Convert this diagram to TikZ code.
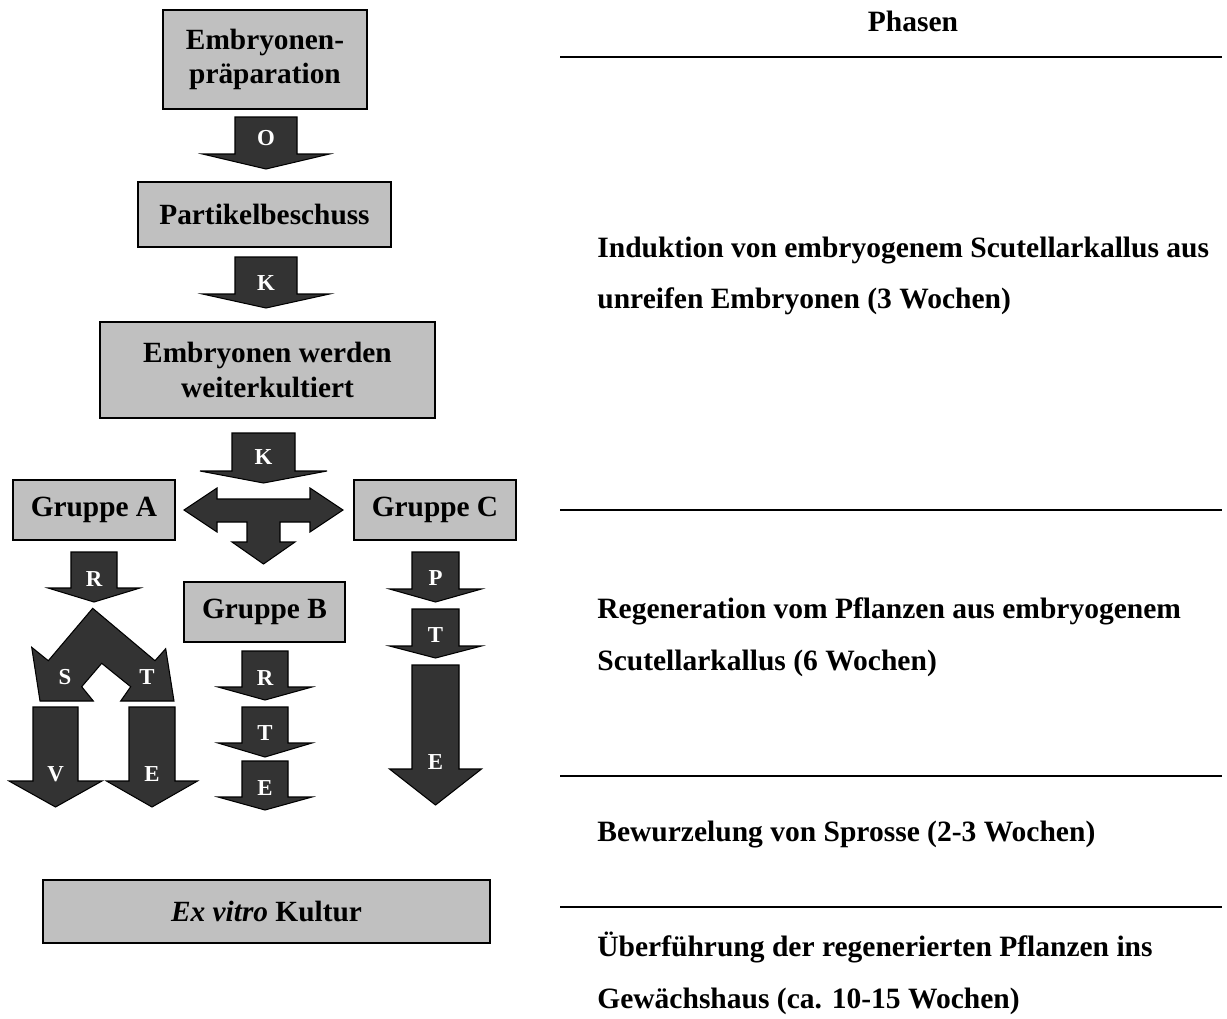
\documentclass[tikz,border=0pt]{standalone}
\usepackage{fontspec}
\setmainfont{Liberation Serif}

\definecolor{boxgray}{RGB}{192, 192, 192}
\definecolor{arrowgray}{RGB}{51, 51, 51}

\begin{document}
\begin{tikzpicture}[x=0.02cm, y=-0.02cm, line join=miter,
        box/.style={draw=black, fill=boxgray, line width=0.9pt, inner sep=0pt,
            align=center, font=\fontsize{16.7}{19.8}\selectfont\bfseries},
        blk/.style={draw=black, fill=arrowgray, line width=0.6pt},
        lbl/.style={text=white, inner sep=0pt, font=\fontsize{13}{14}\selectfont\bfseries},
        phase/.style={anchor=west, align=left, inner sep=0pt,
            font=\fontsize{16.8}{29.5}\selectfont\bfseries},
        sep/.style={line width=1.15pt}]

    \useasboundingbox (0,0) rectangle (1227,1018);

    % --- Kästen links ---
    \node[box, minimum width=4.08cm, minimum height=1.98cm] (prep) at (265,59.5) {Embryonen-\\präparation};
    \node[box, minimum width=5.06cm, minimum height=1.30cm] (besch) at (264.5,214.5) {Partikelbeschuss};
    \node[box, minimum width=6.70cm, minimum height=1.92cm] (weiter) at (267.5,370) {Embryonen werden\\weiterkultiert};
    \node[box, minimum width=3.24cm, minimum height=1.20cm] (grA) at (94,510) {Gruppe A};
    \node[box, minimum width=3.24cm, minimum height=1.20cm] (grC) at (435,510) {Gruppe C};
    \node[box, minimum width=3.22cm, minimum height=1.20cm] (grB) at (264.5,612) {Gruppe B};
    \node[box, minimum width=8.94cm, minimum height=1.26cm] (exv) at (266.5,911.5) {\textit{Ex vitro} Kultur};

    % --- Blockpfeile nach unten: Name/x/oben/Schaft/Flügel-y/Flügel/Spitze/Label-y/Text ---
    \foreach \n/\cx/\top/\sh/\wy/\wh/\tip/\ly/\lab in {%
        aO/266/117/31/154/63.5/169/138/O,
        aK/266/257/31/294/63.5/308/283/K,
        bK/263.5/433/31.5/471/63.5/483/457/K,
        aR/94/552/23/588/46/602/579/R,
        aV/55.5/707/22.5/781/46.5/807/774/V,
        aE/152/707/23/781/45.5/807/774/E,
        bR/265/651/23/687/47/700/678/R,
        bT/265/707/23/743/47/757/733/T,
        bE/265/761/23/797/47/810/788/E,
        cP/435.5/552/23.5/589/46/602/578/P,
        cT/435.5/609/23.5/646/46/658/635/T,
        cE/435.5/665/23.5/769/46/805/762/E} {
        \draw[blk] ({\cx-\sh},\top) -- ({\cx+\sh},\top) -- ({\cx+\sh},\wy) -- ({\cx+\wh},\wy)
            -- (\cx,\tip) -- ({\cx-\wh},\wy) -- ({\cx-\sh},\wy) -- cycle;
        \node[lbl] (\n) at (\cx,\ly) {\lab};
    }

    % --- Verzweigung in drei Gruppen ---
    \draw[blk] (184,510) -- (217,488) -- (217,499) -- (310,499) -- (310,488) -- (343,510)
        -- (310,532) -- (310,522) -- (280,522) -- (280,542) -- (295,542) -- (263.5,564)
        -- (232,542) -- (247,542) -- (247,522) -- (217,522) -- (217,532) -- cycle;

    % --- Gruppe A: geknickter Doppelpfeil S/T ---
    \draw[blk] (92.7,608.3) -- (155,660.7) -- (165.7,648.7) -- (174,701) -- (120.7,701)
        -- (130.7,686.7) -- (101.7,663.3) -- (81.7,686.7) -- (93.3,701) -- (40,701)
        -- (31.7,647.3) -- (48.3,660.7) -- cycle;
    \node[lbl] (aS) at (65,677) {S};
    \node[lbl] (aT) at (147,677) {T};

    % --- Phasen rechts ---
    \node[font=\fontsize{16.8}{19}\selectfont\bfseries, inner sep=0pt] (phasen) at (913,21) {Phasen};
    \foreach \y/\n in {57/l1, 510/l2, 776/l3, 907/l4} {
        \coordinate (\n a) at (560,\y);
        \coordinate (\n b) at (1222,\y);
        \draw[sep] (\n a) -- (\n b);
    }

    \node[phase] (ph1) at (597,276) {Induktion von embryogenem Scutellarkallus aus\\unreifen Embryonen (3 Wochen)};
    \node[phase] (ph2) at (597,637.5) {Regeneration vom Pflanzen aus embryogenem\\Scutellarkallus (6 Wochen)};
    \node[phase] (ph3) at (597,835) {Bewurzelung von Sprosse (2-3 Wochen)};
    \node[phase] (ph4) at (597,973) {Überführung der regenerierten Pflanzen ins\\Gewächshaus (ca. 10-15 Wochen)};

\end{tikzpicture}
\end{document}
